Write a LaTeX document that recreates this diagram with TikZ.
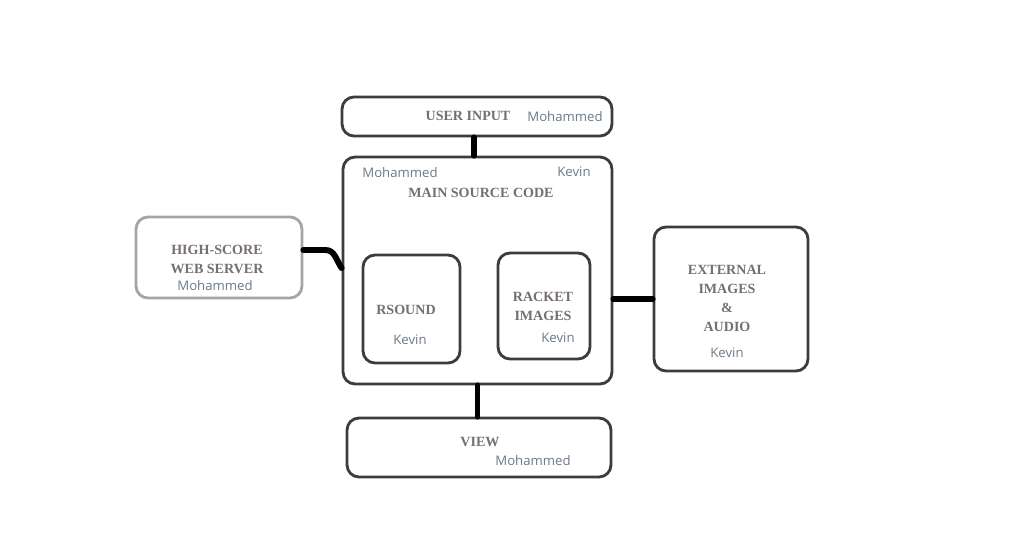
\documentclass[tikz,border=0pt]{standalone}
\usepackage{fontspec}
\usepackage{xcolor}
\usepackage{tikz}
\usetikzlibrary{positioning,calc}
\newfontfamily\headfont{Liberation Serif}
\newfontfamily\ownerfont{Open Sans}
\definecolor{edge}{RGB}{60, 60, 60}
\definecolor{softedge}{RGB}{165, 165, 165}
\definecolor{headgray}{RGB}{118, 112, 108}
\definecolor{ownergray}{RGB}{108, 122, 138}

\begin{document}
\begin{tikzpicture}[
    x=0.02cm, y=-0.02cm,
    block/.style={rectangle, rounded corners=0.24cm, draw=edge,
        line width=1.6pt, inner sep=0pt, fill=white},
    softblock/.style={block, draw=softedge},
    head/.style={align=center, inner sep=0pt, text=headgray,
        font=\headfont\bfseries\fontsize{8}{10.8}\selectfont},
    owner/.style={inner sep=0pt, text=ownergray,
        font=\ownerfont\fontsize{7.5}{9}\selectfont},
    link/.style={line width=3.4pt, draw=black, line cap=round}
]
\useasboundingbox (0,0) rectangle (1024,558);

% Boxes
\node[block, minimum width=5.4cm, minimum height=0.78cm] (input) at (477,116.5) {};
\node[block, minimum width=5.38cm, minimum height=4.54cm] (main) at (477.5,270.5) {};
\node[softblock, minimum width=3.32cm, minimum height=1.62cm] (score) at (219,257.5) {};
\node[block, minimum width=1.94cm, minimum height=2.16cm] (rsound) at (411.5,309) {};
\node[block, minimum width=1.84cm, minimum height=2.12cm] (racket) at (544,306) {};
\node[block, minimum width=3.08cm, minimum height=2.88cm] (extern) at (731,299) {};
\node[block, minimum width=5.28cm, minimum height=1.18cm] (view) at (479,447.5) {};

% Labels
\node[head] (inputhead) at (468,116) {USER INPUT};
\node[owner] (inputowner) at (565,117) {Mohammed};

\node[owner] (mainowner) at (400,173) {Mohammed};
\node[owner] (mainowner2) at (574,172) {Kevin};
\node[head] (mainhead) at (481,193) {MAIN SOURCE CODE};

\node[head] (scorehead) at (217,259.5) {HIGH-SCORE\\WEB SERVER};
\node[owner] (scoreowner) at (215,286) {Mohammed};

\node[head] (rsoundhead) at (406,310) {RSOUND};
\node[owner] (rsoundowner) at (410,340) {Kevin};

\node[head] (rackethead) at (543,306.5) {RACKET\\IMAGES};
\node[owner] (racketowner) at (558,338) {Kevin};

\node[head] (externhead) at (727,298.5) {EXTERNAL\\IMAGES\\\&\\AUDIO};
\node[owner] (externowner) at (727,353) {Kevin};

\node[head] (viewhead) at (480,442) {VIEW};
\node[owner] (viewowner) at (533,461) {Mohammed};

% Connectors
\draw[link] (input.south -| 474,0) -- (main.north -| 474,0);
\draw[link] (main.south) -- (main.south |- view.north);
\draw[link] ([yshift=0.15cm]score.east) -- ++(22,0)
    to[out=0, in=125] ([yshift=0.05cm]main.west);
\draw[link] (extern.west -| main.east) -- (extern.west);

\end{tikzpicture}
\end{document}
